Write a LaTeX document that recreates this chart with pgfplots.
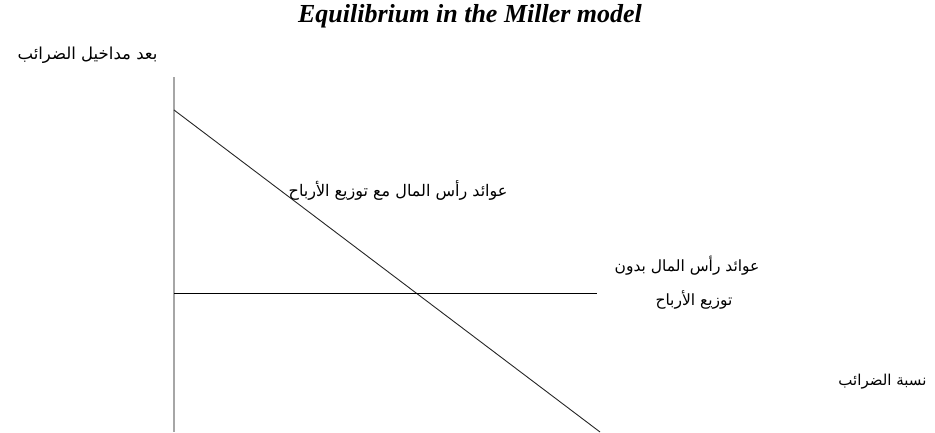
\documentclass[border=0pt]{standalone}
\usepackage{fontspec}
\setmainfont{Liberation Serif}
\newfontfamily\arabicfont[Script=Arabic]{DejaVu Sans}
\TeXXeTstate=1
\usepackage{pgfplots}
\pgfplotsset{compat=1.18}
\begin{document}
\begin{tikzpicture}
\begin{axis}[
  width=935pt, height=432pt, scale only axis,
  xmin=0, xmax=935, ymin=0, ymax=432,
  axis lines=none, clip=false,
]
\path (axis cs:0,0) rectangle (axis cs:935,432);
% y axis line
\addplot[gray!70, line width=1.8pt] coordinates {(174,0) (174,355)};
% capital gains with dividends (downward sloping)
\addplot[black!85, line width=0.9pt] coordinates {(174,322) (600,0)};
% capital gains without dividends (horizontal)
\addplot[black, line width=0.9pt] coordinates {(174,139) (597,139)};
\node[font=\bfseries\itshape\fontsize{26}{28}\selectfont] at (axis cs:470,416) {Equilibrium in the Miller model};
\node[anchor=east, font=\arabicfont\fontsize{16.5}{18}\selectfont] at (axis cs:161,377) {\beginR بعد مداخيل الضرائب\endR};
\node[anchor=east, font=\arabicfont\fontsize{16}{18}\selectfont] at (axis cs:511,242) {\beginR عوائد رأس المال مع توزيع الأرباح\endR};
\node[anchor=east, font=\arabicfont\fontsize{15.5}{18}\selectfont] at (axis cs:763,166) {\beginR عوائد رأس المال بدون\endR};
\node[anchor=east, font=\arabicfont\fontsize{15.5}{18}\selectfont] at (axis cs:736,132) {\beginR توزيع الأرباح\endR};
\node[anchor=east, font=\arabicfont\fontsize{15}{17}\selectfont] at (axis cs:930,50) {\beginR نسبة الضرائب\endR};
\end{axis}
\end{tikzpicture}
\end{document}
